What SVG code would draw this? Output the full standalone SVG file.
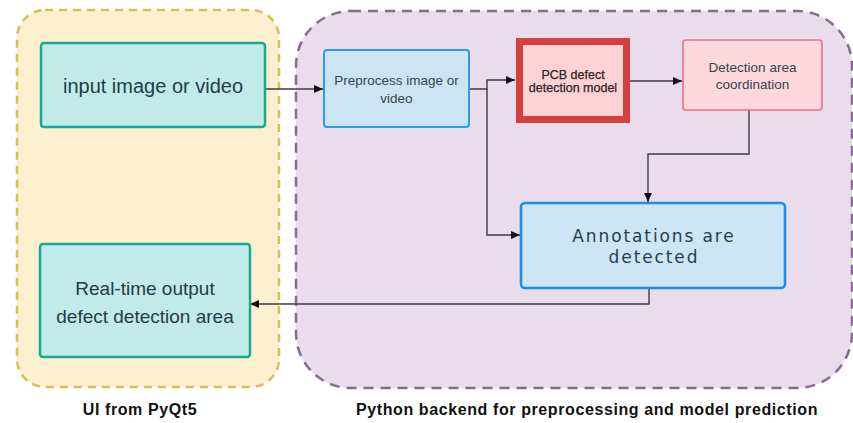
<svg xmlns="http://www.w3.org/2000/svg" width="853" height="423" viewBox="0 0 853 423">
  <style>
    .zone-ui { fill: #fcf0cf; stroke: #d9bd55; stroke-width: 2.5; stroke-dasharray: 8 6; }
    .zone-py { fill: #e9dcec; stroke: #866b90; stroke-width: 2.5; stroke-dasharray: 10 7; }
    .teal { fill: #c1ebe8; stroke: #17a896; stroke-width: 2.5; }
    .blue { fill: #cce4f4; stroke: #2a9fe0; stroke-width: 2; }
    .blue-strong { fill: #cde5f4; stroke: #1a8fe3; stroke-width: 2.6; }
    .pcb { fill: #fdd2d4; stroke: #d5403f; stroke-width: 7; }
    .pink { fill: #fdd9de; stroke: #ee6f86; stroke-width: 1.6; }
    .lbl { font-family: "Liberation Sans", Arial, sans-serif; fill: #243c46; text-anchor: middle; dominant-baseline: central; }
    .big { font-size: 20px; }
    .mid { font-size: 19px; }
    .small { font-size: 13.5px; fill: #34444e; }
    .pcbtxt { font-size: 12.5px; fill: #2e2222; stroke: #2e2222; stroke-width: 0.25; }
    .wide { font-family: "DejaVu Sans", sans-serif; font-size: 17px; letter-spacing: 1.9px; fill: #263f4c; }
    .caption { font-family: "Liberation Sans", Arial, sans-serif; font-size: 16px; font-weight: bold; fill: #111; text-anchor: middle; letter-spacing: 0.6px; }
    .conn { fill: none; stroke: #3c3c3c; stroke-width: 1.4; }
  </style>
  <defs>
    <marker id="arrow" markerUnits="userSpaceOnUse" markerWidth="10" markerHeight="8" refX="9" refY="4" orient="auto">
      <path d="M0,0 L9,4 L0,8 Z" fill="#111"/>
    </marker>
  </defs>

  <rect width="853" height="423" fill="#ffffff"/>

  <!-- containers -->
  <g id="zone-ui">
    <rect class="zone-ui" x="17" y="10" width="262" height="377" rx="28"/>
    <text class="caption" x="140" y="415">UI from PyQt5</text>
  </g>
  <g id="zone-backend">
    <rect class="zone-py" x="296" y="11" width="556" height="377" rx="55"/>
    <text class="caption" x="587" y="415">Python backend for preprocessing and model prediction</text>
  </g>

  <!-- connectors -->
  <g id="connectors">
    <path class="conn" d="M265,89 H323" marker-end="url(#arrow)"/>
    <path class="conn" d="M469,89 H487 V80 H515" marker-end="url(#arrow)"/>
    <path class="conn" d="M487,89 V235 H520" marker-end="url(#arrow)"/>
    <path class="conn" d="M630,81 H682" marker-end="url(#arrow)"/>
    <path class="conn" d="M749,110 V154 H648 V202" marker-end="url(#arrow)"/>
    <path class="conn" d="M649,288 V304 H250" marker-end="url(#arrow)"/>
  </g>

  <!-- nodes -->
  <g id="input">
    <rect class="teal" x="41" y="43" width="224" height="84" rx="3"/>
    <text class="lbl big" x="153" y="86">input image or video</text>
  </g>
  <g id="output">
    <rect class="teal" x="40" y="244" width="210" height="113" rx="3"/>
    <text class="lbl mid" x="145" y="288">Real-time output</text>
    <text class="lbl mid" x="145" y="316">defect detection area</text>
  </g>
  <g id="preprocess">
    <rect class="blue" x="324" y="50" width="145" height="77" rx="3"/>
    <text class="lbl small" x="396.5" y="80">Preprocess image or</text>
    <text class="lbl small" x="396.5" y="98">video</text>
  </g>
  <g id="model">
    <rect class="pcb" x="519.5" y="41.5" width="107" height="78"/>
    <text class="lbl pcbtxt" x="573" y="74.5">PCB defect</text>
    <text class="lbl pcbtxt" x="573" y="87.5">detection model</text>
  </g>
  <g id="coordination">
    <rect class="pink" x="683" y="40" width="139" height="70" rx="3"/>
    <text class="lbl small" x="752.5" y="67">Detection area</text>
    <text class="lbl small" x="752.5" y="84">coordination</text>
  </g>
  <g id="annotations">
    <rect class="blue-strong" x="521" y="203" width="264" height="85" rx="4"/>
    <text class="lbl wide" x="654" y="236">Annotations are</text>
    <text class="lbl wide" x="654" y="257">detected</text>
  </g>
</svg>
